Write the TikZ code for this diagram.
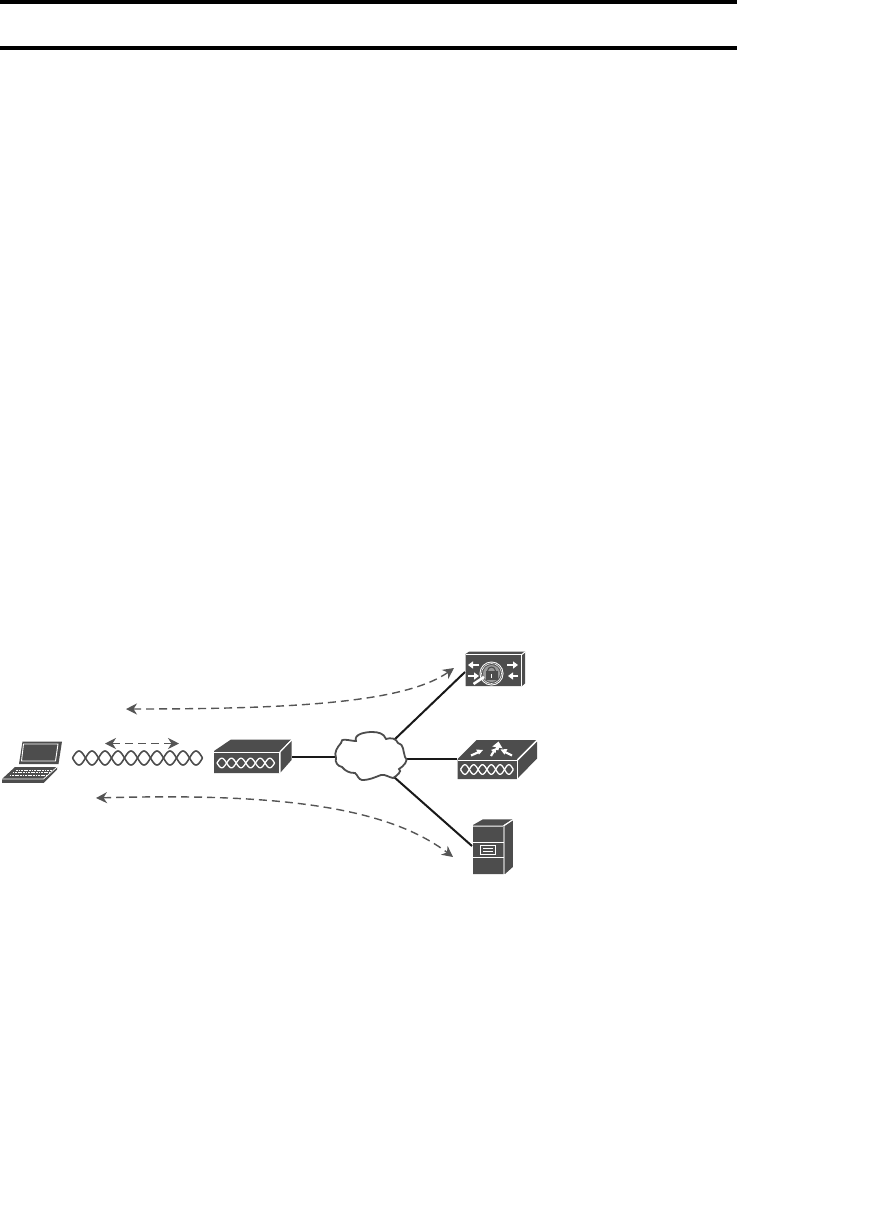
\documentclass[tikz,border=0pt]{standalone}
\usetikzlibrary{arrows.meta}
\definecolor{dev}{HTML}{4D4D4D}
\definecolor{flow}{HTML}{555555}
\tikzset{
  rulebar/.style={fill=black,draw=none},
  link/.style={draw=black!90,line width=2pt},
  flowline/.style={draw=flow,line width=1.4pt,dash pattern=on 8pt off 5pt,
    {Stealth[length=11pt,width=11pt,inset=3.5pt]}-{Stealth[length=11pt,width=11pt,inset=3.5pt]}},
  body/.style={fill=dev,draw=none},
  edge/.style={draw=white,line width=1pt},
  glyph/.style={-{Stealth[length=5pt,width=7pt,inset=0pt]},draw=white,fill=white,line width=2.4pt},
  cloudline/.style={draw=dev,line width=1.8pt,fill=white}
}
\newcommand{\eyechain}[7]{% x0, width per eye, y, count, amplitude, colour, line width
  \draw[#6,line width=#7,line join=round]
    plot[domain=0:#4,samples=#4*10+1,smooth,variable=\t] ({#1+#2*\t},{#3+#5*sin(180*\t)});
  \draw[#6,line width=#7,line join=round]
    plot[domain=0:#4,samples=#4*10+1,smooth,variable=\t] ({#1+#2*\t},{#3-#5*sin(180*\t)});
}
\begin{document}
\begin{tikzpicture}[x=1pt,y=-1pt]
\useasboundingbox (0,0) rectangle (881,1207);
\fill[white] (0,0) rectangle (881,1207);
% page rules
\fill[rulebar] (0,0) rectangle (737,4);
\fill[rulebar] (0,46) rectangle (737,50);

% connector ends
\coordinate (swR) at (292,757);
\coordinate (cloudW) at (335.5,757);
\coordinate (cloudNE) at (394,740);
\coordinate (cloudE) at (406,759);
\coordinate (cloudSE) at (394,777);
\coordinate (fwL) at (465,672);
\coordinate (rtL) at (457,759);
\coordinate (svL) at (472,846);
\coordinate (f1a) at (126,709);
\coordinate (f1b) at (454,668);
\coordinate (f2a) at (105,743.5);
\coordinate (f2b) at (179,743.5);
\coordinate (f3a) at (96,798);
\coordinate (f3b) at (453,857);

% links
\draw[link] (swR) -- (cloudW);
\draw[link] (cloudNE) -- (fwL);
\draw[link] (cloudE) -- (rtL);
\draw[link] (cloudSE) -- (svL);

% cloud
\draw[cloudline] (336,758)
  to[out=110,in=-130] (341,743)
  to[out=100,in=180] (356,741)
  to[out=110,in=180] (372,732)
  to[out=0,in=110] (386,739)
  to[out=20,in=110] (398,743)
  to[out=-10,in=110] (405,757)
  to[out=-30,in=30] (399,769)
  to[out=-30,in=30] (393,778)
  to[out=170,in=10] (381,775)
  to[out=-160,in=0] (362,780)
  to[out=170,in=-40] (355,773)
  to[out=180,in=-50] (342,767)
  to[out=170,in=-110] cycle;

% laptop
\fill[body] (22.5,741.5) -- (62,741.5) -- (58.5,764) -- (19,764) -- cycle;
\draw[white,line width=.9pt] (23.5,744) -- (58,744) -- (55.5,761) -- (21.5,761) -- cycle;
\fill[body] (2,779) -- (15,767) -- (57,767) -- (44,779) -- cycle;
\fill[body] (2,779) rectangle (43.5,783);
\fill[body] (43.5,779) -- (57,767) -- (57,769.5) -- (43.5,783) -- cycle;
\draw[white,line width=.9pt,dash pattern=on 1.8pt off .8pt] (16,770) -- (52,770);
\draw[white,line width=.9pt,dash pattern=on 1.8pt off .8pt] (12.5,772.6) -- (49,772.6);
\draw[white,line width=.9pt,dash pattern=on 1.8pt off .8pt] (9.5,775.4) -- (46,775.4);
\draw[white,line width=.7pt] (2,779) -- (43.5,779) -- (57,767);

% twisted pair
\eyechain{72.5}{13}{758}{10}{7}{dev}{1.6pt}

% switch
\fill[body] (214,751) -- (231,739.5) -- (291,739.5) -- (279.5,751.5) -- (279.5,773) -- (214,773) -- cycle;
\fill[body] (280.5,752) -- (291.5,741) -- (291.5,760) -- (280.5,772.5) -- cycle;
\draw[edge] (214,752.5) -- (279.5,752.5) -- (279.5,773);
\draw[edge] (279.5,752.5) -- (291,740.5);
\eyechain{217}{9.6}{763}{6}{4.8}{white}{1.3pt}

% firewall
\fill[body] (465.5,654) -- (469,651.7) -- (525,651.7) -- (525,683.5) -- (522,686) -- (465.5,686) -- cycle;
\draw[edge] (465.5,654.5) -- (521.8,654.5) -- (521.8,686);
\draw[edge] (521.8,654.5) -- (525,652);
\fill[white] (491.5,673.5) circle (12pt);
\fill[dev] (491.5,673.5) circle (11pt);
\draw[white,line width=.8pt,dash pattern=on .9pt off .5pt] (491.5,673.5) circle (10pt);
\fill[black!40] (491.5,673.5) circle (8.5pt);
\draw[dev,line width=1.1pt] (487.5,671) arc[start angle=180,end angle=0,radius=4pt];
\fill[dev] (485.5,671) rectangle (497.5,680);
\fill[white] (490.8,674) rectangle (492.4,677.5);
\draw[glyph] (479,665) -- (468,665);
\draw[glyph] (507,665) -- (518,665);
\draw[glyph] (468,676) -- (479,676);
\draw[glyph] (518,676) -- (508,676);
\draw[white,line width=2.6pt] (473.5,684) -- (484,677);

% router
\fill[body] (457.5,759) -- (476.5,740) -- (536,740) -- (517,759) -- (517,779) -- (457.5,779) -- cycle;
\fill[body] (518,760.5) -- (537,741.5) -- (537,758.5) -- (518,778) -- cycle;
\draw[edge] (457.5,760.5) -- (517.2,760.5) -- (517.2,779);
\draw[edge] (517.2,760.5) -- (536.5,741);
\eyechain{460.5}{8.8}{769.5}{6}{4.8}{white}{1.3pt}
\draw[white,line width=2.2pt] (471,755.5) -- (480,751.5);
\fill[white] (483,750) -- (476,749.5) -- (479,754.5) -- cycle;
\draw[white,line width=2.2pt] (491,756) -- (494,751);
\fill[white] (496.5,748) -- (491,750) -- (495.5,753) -- cycle;
\draw[white,line width=2.2pt] (512,755.5) -- (504,751.5);
\fill[white] (500.5,749.5) -- (507.5,749) -- (504.5,754.5) -- cycle;
\draw[white,fill=white,line width=3pt,-{Stealth[length=6pt,width=10pt,inset=0pt]}] (497,750) -- (498.5,741.5);

% server
\fill[body] (473,825) -- (483,819.3) -- (512.5,819.3) -- (503.5,825) -- (503.5,874) -- (473,874) -- cycle;
\fill[body] (505,825.5) -- (512.8,820.3) -- (512.8,867) -- (505,874) -- cycle;
\draw[edge] (473,826) -- (503.5,826) -- (512.5,820);
\draw[black!35,line width=1.2pt] (504,826) -- (504,874);
\draw[edge] (473,842.7) -- (503.5,842.7);
\draw[edge] (473,857) -- (503.5,857);
\draw[edge] (480.5,845) rectangle (495.5,854.5);
\draw[white,line width=.6pt] (483,848.3) -- (493,848.3);
\draw[white,line width=.6pt] (483,851.3) -- (493,851.3);

% flows
\draw[flowline] (f1a) .. controls (290,709) and (405,703) .. (f1b);
\draw[flowline] (f2a) -- (f2b);
\draw[flowline] (f3a) .. controls (270,793) and (385,805) .. (f3b);
\end{tikzpicture}
\end{document}
